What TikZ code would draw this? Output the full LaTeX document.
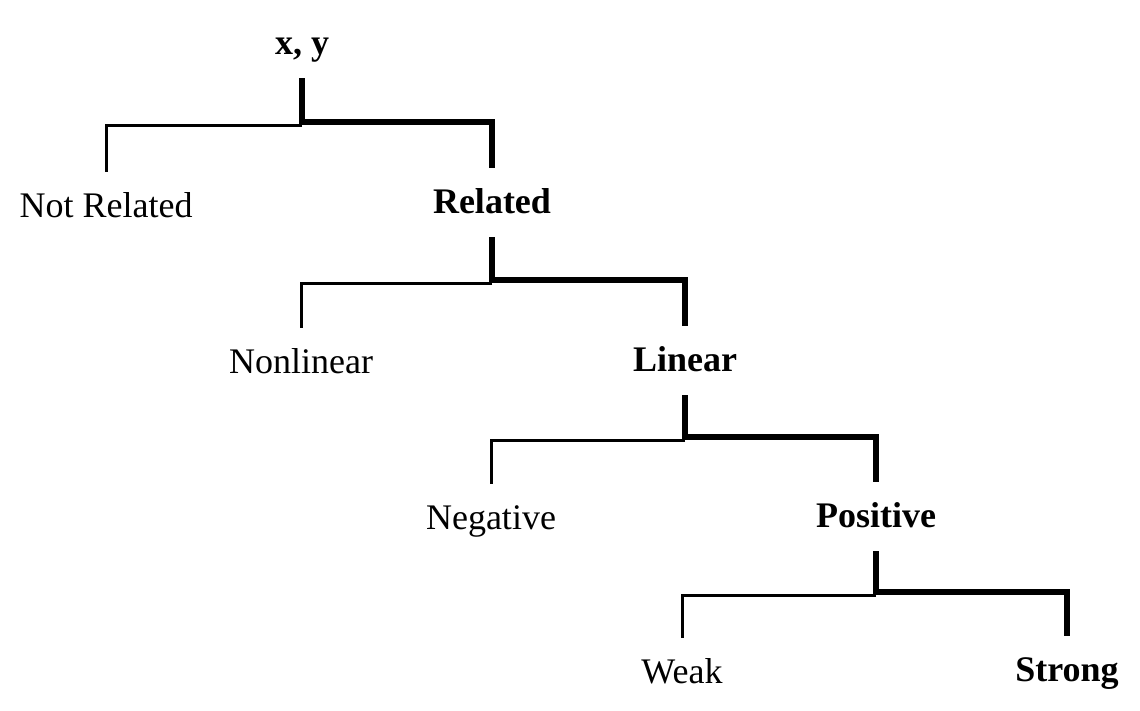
\documentclass[tikz,border=0pt]{standalone}
\usepackage{fontspec}
\setmainfont{Liberation Serif}
\begin{document}
\begin{tikzpicture}[x={(1pt,0)},y={(0,-1pt)},
  lbl/.style={font=\fontsize{36}{42}\selectfont, inner sep=0pt, text height=27pt, text depth=5pt, outer ysep=18.5pt, anchor=center},
  blbl/.style={lbl, font=\fontsize{36}{42}\selectfont\bfseries},
  thickl/.style={line width=6pt, line join=miter, line cap=butt},
  thinl/.style={line width=3pt, line join=miter, line cap=butt}]
\useasboundingbox (0,0) rectangle (1140,710);
% nodes
\node[blbl] (xy) at (302,43.5) {x, y};
\node[lbl]  (nr) at (106,206.5) {Not Related};
\node[blbl] (rel) at (492,202.5) {Related};
\node[lbl]  (nl) at (301,362.5) {Nonlinear};
\node[blbl] (lin) at (685,360.5) {Linear};
\node[lbl]  (neg) at (491,518.5) {Negative};
\node[blbl] (pos) at (876,516.5) {Positive};
\node[lbl]  (wk) at (682,672.5) {Weak};
\node[blbl] (st) at (1067,670.5) {Strong};
% junctions
\coordinate (j1) at (302,122); \coordinate (j1t) at (302,125);
\coordinate (j2) at (492,280); \coordinate (j2t) at (492,283);
\coordinate (j3) at (685,437); \coordinate (j3t) at (685,440);
\coordinate (j4) at (876,592); \coordinate (j4t) at (876,595);
% connectors
\draw[thinl] (j1t) -| (nr);
\draw[thickl] (xy) -- (j1) -| (rel);
\draw[thinl] (j2t) -| (nl);
\draw[thickl] (rel) -- (j2) -| (lin);
\draw[thinl] (j3t) -| (neg);
\draw[thickl] (lin) -- (j3) -| (pos);
\draw[thinl] (j4t) -| (wk);
\draw[thickl] (pos) -- (j4) -| (st);
\end{tikzpicture}
\end{document}
